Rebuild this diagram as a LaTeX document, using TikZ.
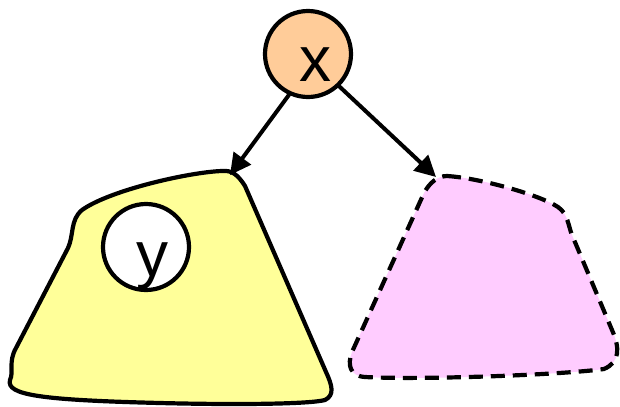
\documentclass[tikz,border=0pt]{standalone}
\usepackage{fontspec}
\setmainfont{Liberation Sans}
\usetikzlibrary{arrows.meta}

\definecolor{peach}{HTML}{FFCC99}
\definecolor{lemon}{HTML}{FFFF99}
\definecolor{lilac}{HTML}{FFCCFF}

\begin{document}
\begin{tikzpicture}[x=1bp, y=-1bp, line cap=round, line join=round,
  ball/.style={circle, draw, line width=4.2bp, minimum size=86bp, inner sep=0pt},
  lbl/.style={font=\fontsize{64bp}{64bp}\selectfont, inner sep=0pt},
  link/.style={line width=4bp, -{Triangle[length=21bp,width=21bp]}},
  blob/.style={line width=4.2bp}]

% --- Canvas ---
\useasboundingbox (0,0) rectangle (620,406);

% --- Left blob (solid, yellow) ---
\draw[blob, fill=lemon]
  (222,171)
  .. controls (190,172) and (110,190) .. (82,210)
  .. controls (70,220) and (74,235) .. (68,248)
  -- (16,348)
  .. controls (8,362) and (14,372) .. (10,380)
  .. controls (6,395) and (40,400) .. (160,403)
  .. controls (240,405) and (310,404) .. (325,400)
  .. controls (335,395) and (332,385) .. (326,372)
  -- (245,186)
  .. controls (238,175) and (232,170) .. cycle;

% --- Right blob (dashed, pink) ---
\draw[blob, fill=lilac, line cap=butt, dash pattern=on 14bp off 8bp]
  (447,176)
  .. controls (480,178) and (540,195) .. (558,207)
  .. controls (568,214) and (568,225) .. (572,235)
  -- (612,330)
  .. controls (620,348) and (620,362) .. (604,369)
  .. controls (560,375) and (420,380) .. (365,377)
  .. controls (350,376) and (347,365) .. (352,352)
  -- (424,193)
  .. controls (430,182) and (438,176) .. cycle;

% --- Nodes ---
\node[ball, fill=peach, label={[lbl, xshift=7bp, yshift=-11bp]center:x}] (x) at (308,54) {};
\node[ball, fill=white, label={[lbl, xshift=6bp, yshift=-19bp]center:y}] (y) at (146,247) {};

% --- Arrow ends on the blobs ---
\coordinate (lefttop)  at (230,175);
\coordinate (righttop) at (436,177);

% --- Arrows ---
\draw[link] (x.-115) -- (lefttop);
\draw[link] (x.-46)  -- (righttop);

\end{tikzpicture}
\end{document}
